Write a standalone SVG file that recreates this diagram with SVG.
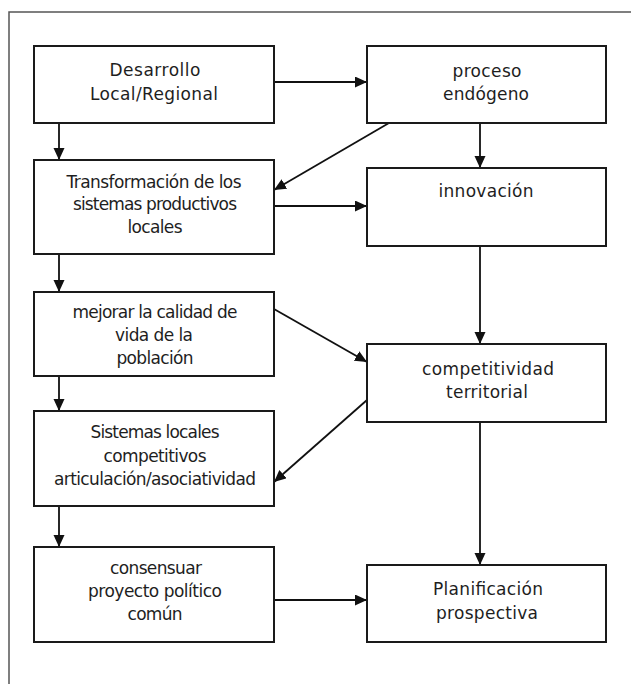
<svg xmlns="http://www.w3.org/2000/svg" width="631" height="684" viewBox="0 0 631 684">
<style>
.box{fill:#fff;stroke:#1a1a1a;stroke-width:2}
.lbl{font-family:"DejaVu Sans",Verdana,sans-serif;font-size:17px;fill:#1e1e1e;text-anchor:middle}
.con{stroke:#111;stroke-width:1.8;fill:none;marker-end:url(#ah)}
.frame{stroke:#555;stroke-width:1.5;fill:none}
</style>
<defs>
<marker id="ah" markerUnits="userSpaceOnUse" markerWidth="13" markerHeight="12" refX="12" refY="5.5" orient="auto">
<path d="M0,0 L12,5.5 L0,11 z" fill="#111"/>
</marker>
</defs>
<rect width="631" height="684" fill="#fff"/>
<path class="frame" d="M9,684 V12 H631"/>
<g id="connectors">
<line class="con" x1="274" y1="82" x2="367" y2="82"/>
<line class="con" x1="59" y1="123" x2="59" y2="160"/>
<line class="con" x1="389" y1="123" x2="274" y2="190"/>
<line class="con" x1="480" y1="123" x2="480" y2="168"/>
<line class="con" x1="274" y1="206" x2="367" y2="206"/>
<line class="con" x1="59" y1="254" x2="59" y2="292"/>
<line class="con" x1="480" y1="246" x2="480" y2="344"/>
<line class="con" x1="274" y1="309" x2="367" y2="362"/>
<line class="con" x1="59" y1="376" x2="59" y2="411"/>
<line class="con" x1="367" y1="400" x2="274" y2="482"/>
<line class="con" x1="59" y1="506" x2="59" y2="547"/>
<line class="con" x1="480" y1="422" x2="480" y2="565"/>
<line class="con" x1="274" y1="600" x2="367" y2="600"/>
</g>
<g id="n1">
<rect class="box" x="34" y="46" width="240" height="77"/>
<text class="lbl" x="155" y="76" textLength="91">Desarrollo</text>
<text class="lbl" x="154" y="100" textLength="128">Local/Regional</text>
</g>
<g id="n2">
<rect class="box" x="367" y="46" width="239" height="77"/>
<text class="lbl" x="487" y="77" textLength="69">proceso</text>
<text class="lbl" x="486" y="100" textLength="86">endógeno</text>
</g>
<g id="n3">
<rect class="box" x="34" y="160" width="240" height="94"/>
<text class="lbl" x="154" y="188" textLength="175">Transformación de los</text>
<text class="lbl" x="155" y="210" textLength="164">sistemas productivos</text>
<text class="lbl" x="155" y="233" textLength="55">locales</text>
</g>
<g id="n4">
<rect class="box" x="367" y="168" width="239" height="78"/>
<text class="lbl" x="486" y="197" textLength="95">innovación</text>
</g>
<g id="n5">
<rect class="box" x="34" y="292" width="240" height="84"/>
<text class="lbl" x="155" y="318" textLength="165">mejorar la calidad de</text>
<text class="lbl" x="154" y="341" textLength="78">vida de la</text>
<text class="lbl" x="155" y="364" textLength="77">población</text>
</g>
<g id="n6">
<rect class="box" x="367" y="344" width="239" height="78"/>
<text class="lbl" x="488" y="375" textLength="132">competitividad</text>
<text class="lbl" x="487" y="398" textLength="82">territorial</text>
</g>
<g id="n7">
<rect class="box" x="34" y="411" width="240" height="95"/>
<text class="lbl" x="155" y="438" textLength="129">Sistemas locales</text>
<text class="lbl" x="155" y="462" textLength="103">competitivos</text>
<text class="lbl" x="155" y="485" textLength="202">articulación/asociatividad</text>
</g>
<g id="n8">
<rect class="box" x="34" y="547" width="240" height="95"/>
<text class="lbl" x="156" y="574" textLength="92">consensuar</text>
<text class="lbl" x="155" y="597" textLength="134">proyecto político</text>
<text class="lbl" x="155" y="620" textLength="55">común</text>
</g>
<g id="n9">
<rect class="box" x="367" y="565" width="239" height="77"/>
<text class="lbl" x="488" y="595" textLength="110">Planificación</text>
<text class="lbl" x="487" y="619" textLength="102">prospectiva</text>
</g>
</svg>
